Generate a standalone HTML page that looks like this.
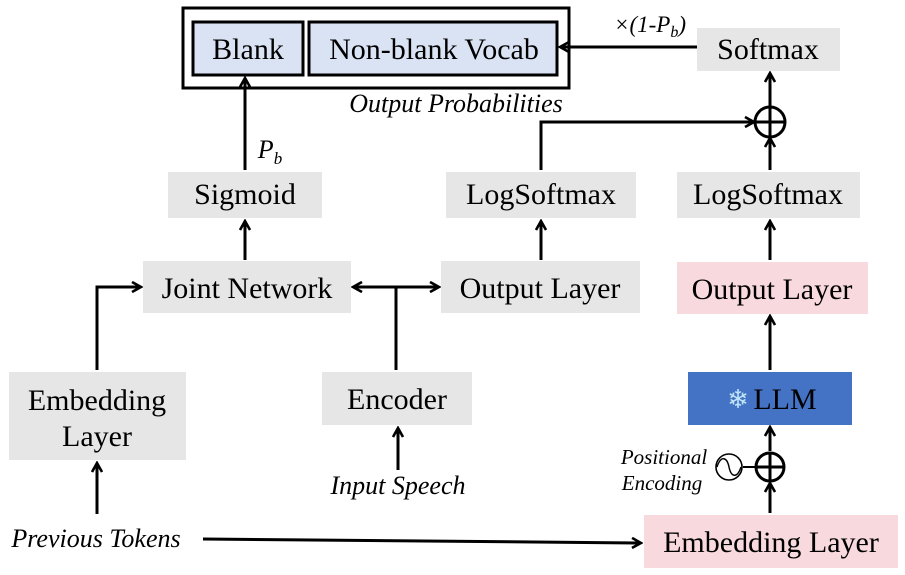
<!DOCTYPE html>
<html><head><meta charset="utf-8"><style>
body{margin:0;background:#fff}
svg{display:block}
text{font-family:"Liberation Serif",serif;fill:#000}
</style></head><body>
<svg width="905" height="575" viewBox="0 0 905 575" xmlns="http://www.w3.org/2000/svg">
<defs>
<marker id="a" viewBox="0 0 12 12" refX="10" refY="6" markerWidth="12" markerHeight="12" markerUnits="userSpaceOnUse" orient="auto-start-reverse">
<path d="M1,1 L10,6 L1,11" fill="none" stroke="#000" stroke-width="2.6"/>
</marker>
</defs>
<g stroke="none">
<rect x="183" y="8" width="386" height="80" fill="#fff" stroke="#000" stroke-width="3"/>
<rect x="193" y="22" width="110" height="53" fill="#dae3f3" stroke="#000" stroke-width="3"/>
<rect x="309" y="22" width="248" height="53" fill="#dae3f3" stroke="#000" stroke-width="3"/>
<rect x="697" y="28" width="143" height="43" fill="#e7e6e6"/>
<rect x="168" y="172" width="154" height="46" fill="#e7e6e6"/>
<rect x="446" y="172" width="190" height="46" fill="#e7e6e6"/>
<rect x="677" y="172" width="183" height="46" fill="#e7e6e6"/>
<rect x="143" y="261" width="208" height="52" fill="#e7e6e6"/>
<rect x="441" y="261" width="199" height="52" fill="#e7e6e6"/>
<rect x="677" y="262" width="191" height="52" fill="#f8dade"/>
<rect x="9" y="372" width="177" height="88" fill="#e7e6e6"/>
<rect x="322" y="372" width="150" height="53" fill="#e7e6e6"/>
<rect x="688" y="372" width="164" height="53" fill="#4472c4"/>
<rect x="644" y="515" width="254" height="53" fill="#f8dade"/>
</g>
<g font-size="30" text-anchor="middle">
<text x="248" y="59">Blank</text>
<text x="434" y="59">Non-blank Vocab</text>
<text x="768" y="59">Softmax</text>
<text x="245" y="204">Sigmoid</text>
<text x="541" y="204">LogSoftmax</text>
<text x="768" y="204">LogSoftmax</text>
<text x="247" y="298">Joint Network</text>
<text x="540" y="298">Output Layer</text>
<text x="772" y="299">Output Layer</text>
<text x="97" y="410">Embedding</text>
<text x="97" y="446">Layer</text>
<text x="397" y="409">Encoder</text>
<text x="785" y="409">LLM</text>
<text x="771" y="552">Embedding Layer</text>
</g>
<text x="738" y="408" font-size="26" text-anchor="middle" style="fill:#bfe4f7">❄</text>
<g font-style="italic" text-anchor="middle">
<text x="456" y="112" font-size="26">Output Probabilities</text>
<text x="398" y="494" font-size="26">Input Speech</text>
<text x="96" y="547" font-size="26">Previous Tokens</text>
<text x="664" y="464" font-size="21">Positional</text>
<text x="662" y="490" font-size="21">Encoding</text>
<text x="270" y="158" font-size="26">P<tspan font-size="17" dy="6">b</tspan></text>
<text x="650" y="32" font-size="23">×(1-P<tspan font-size="16" dy="5">b</tspan><tspan dy="-5">)</tspan></text>
</g>
<g fill="none" stroke="#000" stroke-width="3">
<line x1="697" y1="47" x2="560" y2="47" marker-end="url(#a)"/>
<line x1="245" y1="170" x2="245" y2="78" marker-end="url(#a)"/>
<line x1="245" y1="260" x2="245" y2="221" marker-end="url(#a)"/>
<line x1="541" y1="260" x2="541" y2="221" marker-end="url(#a)"/>
<line x1="770" y1="260" x2="770" y2="221" marker-end="url(#a)"/>
<line x1="770" y1="170" x2="770" y2="138" marker-end="url(#a)"/>
<line x1="770" y1="108" x2="770" y2="73" marker-end="url(#a)"/>
<polyline points="541,170 541,122 754,122" marker-end="url(#a)"/>
<circle cx="770" cy="122" r="15"/>
<line x1="755" y1="122" x2="785" y2="122"/>
<line x1="770" y1="107" x2="770" y2="137"/>
<line x1="770" y1="370" x2="770" y2="316" marker-end="url(#a)"/>
<polyline points="97,370 97,287 141,287" marker-end="url(#a)"/>
<line x1="353" y1="287" x2="439" y2="287" marker-start="url(#a)" marker-end="url(#a)"/>
<line x1="396" y1="370" x2="396" y2="287"/>
<line x1="398" y1="470" x2="398" y2="428" marker-end="url(#a)"/>
<line x1="97" y1="514" x2="97" y2="463" marker-end="url(#a)"/>
<line x1="203" y1="539" x2="641" y2="543" marker-end="url(#a)"/>
<line x1="770" y1="513" x2="770" y2="483" marker-end="url(#a)"/>
<line x1="770" y1="451" x2="770" y2="427" marker-end="url(#a)"/>
<circle cx="770" cy="467" r="14"/>
<line x1="756" y1="467" x2="784" y2="467"/>
<line x1="770" y1="453" x2="770" y2="481"/>
<line x1="743" y1="467" x2="756" y2="467" stroke-width="2"/>
<circle cx="729" cy="467" r="13" stroke-width="1.6"/>
<path d="M717,467 C721,455 727,457 729,467 C731,477 737,479 741,467" stroke-width="1.4"/>
</g>
</svg>
</body></html>
